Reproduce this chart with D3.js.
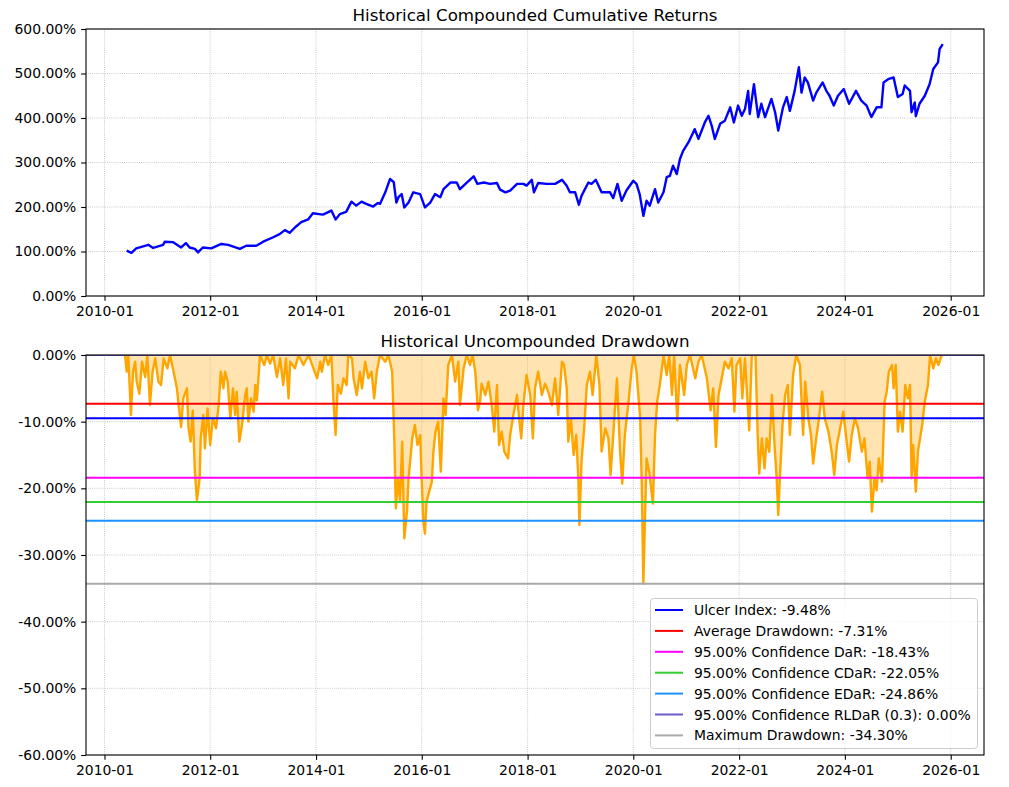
<!DOCTYPE html>
<html>
<head>
<meta charset="utf-8">
<script src="https://cdn.jsdelivr.net/npm/d3@7"></script>
<style>
body { margin: 0; background: #fff; }
svg text { font-family: "DejaVu Sans", sans-serif; fill: #000; }
</style>
</head>
<body>
<div id="chart"></div>
<script>
var svgWidth = 1009;
var svgHeight = 787;

// compounded cumulative returns (%), dates as decimal years
var cumYears = [2010.42, 2010.51, 2010.60, 2010.83, 2010.92, 2011.11, 2011.14, 2011.30, 2011.45, 2011.54,
  2011.61, 2011.71, 2011.77, 2011.86, 2012.02, 2012.21, 2012.34, 2012.56, 2012.68, 2012.87,
  2013.00, 2013.19, 2013.31, 2013.41, 2013.50, 2013.60, 2013.72, 2013.85, 2013.94, 2014.13,
  2014.29, 2014.37, 2014.45, 2014.57, 2014.67, 2014.76, 2014.86, 2014.95, 2015.08, 2015.17,
  2015.21, 2015.31, 2015.40, 2015.47, 2015.52, 2015.56, 2015.62, 2015.67, 2015.75, 2015.84,
  2015.97, 2016.06, 2016.16, 2016.25, 2016.35, 2016.41, 2016.54, 2016.66, 2016.72, 2016.85,
  2016.98, 2017.05, 2017.17, 2017.29, 2017.42, 2017.48, 2017.58, 2017.67, 2017.80, 2017.92,
  2017.98, 2018.08, 2018.12, 2018.20, 2018.36, 2018.52, 2018.65, 2018.74, 2018.80, 2018.90,
  2018.97, 2019.02, 2019.15, 2019.21, 2019.29, 2019.40, 2019.56, 2019.62, 2019.70, 2019.78,
  2019.87, 2020.00, 2020.06, 2020.12, 2020.19, 2020.25, 2020.31, 2020.41, 2020.47, 2020.57,
  2020.63, 2020.69, 2020.75, 2020.82, 2020.88, 2020.94, 2021.04, 2021.16, 2021.23, 2021.35,
  2021.42, 2021.48, 2021.54, 2021.64, 2021.73, 2021.83, 2021.90, 2021.98, 2022.05, 2022.11,
  2022.17, 2022.20, 2022.28, 2022.36, 2022.42, 2022.49, 2022.61, 2022.68, 2022.74, 2022.83,
  2022.90, 2022.96, 2023.05, 2023.13, 2023.18, 2023.24, 2023.30, 2023.40, 2023.46, 2023.58,
  2023.65, 2023.71, 2023.79, 2023.87, 2023.98, 2024.08, 2024.21, 2024.31, 2024.41, 2024.50,
  2024.60, 2024.69, 2024.73, 2024.83, 2024.92, 2025.00, 2025.09, 2025.13, 2025.23, 2025.26,
  2025.32, 2025.34, 2025.41, 2025.51, 2025.60, 2025.67, 2025.76, 2025.79, 2025.85];
var cumValues = [102, 97, 107, 115, 108, 115, 122, 121, 109, 119,
  109, 106, 98, 109, 107, 117, 115, 106, 113, 113,
  122, 132, 139, 148, 142, 154, 166, 172, 186, 183,
  192, 172, 184, 189, 212, 203, 212, 207, 201, 209,
  207, 233, 263, 256, 210, 222, 229, 199, 210, 233,
  229, 199, 210, 229, 222, 240, 255, 255, 240, 255,
  269, 252, 255, 252, 254, 239, 233, 237, 252, 252,
  248, 261, 233, 254, 252, 252, 261, 248, 233, 233,
  205, 225, 255, 252, 261, 233, 233, 220, 252, 214,
  237, 259, 252, 229, 180, 214, 203, 240, 210, 233,
  267, 270, 293, 274, 308, 326, 345, 375, 353, 390,
  405, 383, 353, 387, 394, 424, 390, 428, 405, 420,
  461, 409, 476, 402, 432, 402, 443, 413, 372, 424,
  447, 416, 461, 514, 457, 491, 480, 439, 457, 480,
  461, 450, 428, 450, 465, 432, 461, 439, 428, 402,
  424, 424, 480, 488, 491, 447, 454, 473, 461, 413,
  435, 404, 432, 450, 476, 510, 525, 555, 566];

// uncompounded drawdown (%), dates as decimal years
var ddYears = [2010.39, 2010.42, 2010.45, 2010.50, 2010.54, 2010.58, 2010.61, 2010.66, 2010.71, 2010.77,
  2010.81, 2010.86, 2010.91, 2010.96, 2011.02, 2011.07, 2011.12, 2011.19, 2011.24, 2011.32,
  2011.37, 2011.41, 2011.45, 2011.49, 2011.56, 2011.59, 2011.63, 2011.67, 2011.71, 2011.75,
  2011.80, 2011.82, 2011.87, 2011.90, 2011.95, 2012.00, 2012.05, 2012.11, 2012.16, 2012.20,
  2012.25, 2012.28, 2012.33, 2012.38, 2012.43, 2012.47, 2012.50, 2012.55, 2012.60, 2012.66,
  2012.69, 2012.72, 2012.77, 2012.82, 2012.85, 2012.88, 2012.91, 2012.94, 2013.02, 2013.07,
  2013.13, 2013.19, 2013.26, 2013.32, 2013.38, 2013.43, 2013.48, 2013.51, 2013.60, 2013.67,
  2013.76, 2013.86, 2013.95, 2014.02, 2014.08, 2014.11, 2014.17, 2014.23, 2014.29, 2014.33,
  2014.37, 2014.41, 2014.47, 2014.52, 2014.58, 2014.61, 2014.68, 2014.71, 2014.77, 2014.83,
  2014.87, 2014.93, 2014.99, 2015.05, 2015.10, 2015.15, 2015.21, 2015.31, 2015.37, 2015.44,
  2015.48, 2015.51, 2015.55, 2015.59, 2015.63, 2015.67, 2015.72, 2015.75, 2015.78, 2015.82,
  2015.87, 2015.92, 2015.97, 2016.00, 2016.03, 2016.06, 2016.09, 2016.14, 2016.19, 2016.22,
  2016.26, 2016.31, 2016.36, 2016.41, 2016.45, 2016.50, 2016.57, 2016.63, 2016.69, 2016.72,
  2016.79, 2016.85, 2016.91, 2016.96, 2017.01, 2017.06, 2017.10, 2017.13, 2017.20, 2017.26,
  2017.32, 2017.37, 2017.42, 2017.46, 2017.51, 2017.56, 2017.63, 2017.67, 2017.73, 2017.80,
  2017.84, 2017.88, 2017.92, 2017.98, 2018.05, 2018.10, 2018.14, 2018.20, 2018.27, 2018.33,
  2018.39, 2018.46, 2018.52, 2018.58, 2018.65, 2018.69, 2018.74, 2018.77, 2018.82, 2018.87,
  2018.92, 2018.96, 2018.98, 2019.02, 2019.07, 2019.12, 2019.18, 2019.23, 2019.30, 2019.36,
  2019.40, 2019.47, 2019.53, 2019.57, 2019.62, 2019.69, 2019.75, 2019.79, 2019.84, 2019.91,
  2019.97, 2020.01, 2020.06, 2020.13, 2020.16, 2020.19, 2020.22, 2020.25, 2020.30, 2020.37,
  2020.41, 2020.45, 2020.50, 2020.57, 2020.63, 2020.68, 2020.73, 2020.77, 2020.83, 2020.88,
  2020.96, 2021.01, 2021.07, 2021.17, 2021.23, 2021.29, 2021.39, 2021.46, 2021.51, 2021.56,
  2021.61, 2021.67, 2021.73, 2021.80, 2021.86, 2021.91, 2021.95, 2022.02, 2022.06, 2022.11,
  2022.19, 2022.24, 2022.31, 2022.35, 2022.38, 2022.43, 2022.48, 2022.52, 2022.57, 2022.62,
  2022.67, 2022.71, 2022.74, 2022.77, 2022.82, 2022.87, 2022.92, 2022.96, 2023.02, 2023.08,
  2023.15, 2023.21, 2023.25, 2023.31, 2023.36, 2023.40, 2023.45, 2023.51, 2023.57, 2023.62,
  2023.69, 2023.75, 2023.80, 2023.85, 2023.91, 2023.97, 2024.02, 2024.08, 2024.13, 2024.19,
  2024.25, 2024.32, 2024.37, 2024.43, 2024.47, 2024.51, 2024.56, 2024.60, 2024.64, 2024.70,
  2024.75, 2024.79, 2024.83, 2024.89, 2024.92, 2024.96, 2025.00, 2025.04, 2025.09, 2025.14,
  2025.19, 2025.23, 2025.26, 2025.29, 2025.34, 2025.38, 2025.42, 2025.46, 2025.51, 2025.57,
  2025.61, 2025.67, 2025.72, 2025.77, 2025.83, 2025.86];
var ddValues = [0, -2.5, 0, -9.0, -2.5, -1, -4, -5.8, -1, -3.3,
  0, -7.5, -2.5, -0.5, -4, -4.5, -0.5, -2, 0, -3,
  -5, -8, -10.8, -6.5, -5, -11, -13, -8.3, -17.5, -21.8,
  -18.5, -12.5, -9, -14, -8, -13.5, -9.5, -11, -7.5, -2.5,
  -5, -2.5, -4, -9.5, -5, -9, -5.5, -13, -10.5, -6,
  -5, -10, -6.5, -8.5, -4.5, -6.8, -3.5, 0, -1.5, 0,
  -1.3, 0, -3.3, -0.5, -4.5, -0.5, -6.5, -1, -2, 0,
  -1.5, 0, -2, -3.5, -1, -2.5, 0, -1.5, 0, -7,
  -12, -4.5, -5.8, -3.5, -4.5, 0, -0.5, -3.5, -6, -2.5,
  -5, -1, -3.5, -2.5, -6.5, -2.5, 0, -1, 0, -2.5,
  -12.5, -23, -18.5, -22, -13, -27.5, -23.5, -18.5, -16, -12.5,
  -10.5, -13.5, -12, -19, -25, -26.8, -22, -20.5, -19, -14.5,
  -11.5, -10, -17.5, -6.5, -9, -1.5, 0, -4, -1, -7.5,
  -2, 0, -1.5, 0, -2.5, -8.3, -7, -4.3, -6, -4,
  -7.5, -11.5, -4.5, -13.5, -11.5, -14.5, -15.5, -12, -9, -6,
  -9.5, -12.5, -7.5, -3, -6, -12.5, -5, -2.5, -6, -4.3,
  -5.5, -7.5, -3.5, -9, -1, -1.5, -5, -13, -9.5, -15,
  -12, -18.5, -25.5, -16, -11, -4.5, -2.5, -6, 0, -4.5,
  -14.5, -11, -12.5, -18, -12, -3.5, -14.5, -19.3, -12, -7,
  -2, 0, -2.5, -9.5, -19.5, -34.3, -24.5, -15.5, -17.5, -22.3,
  -12, -7, -4.5, 0, -3, 0, -6, 0, -9.8, -1.5,
  -6, -1.5, 0, -3.5, -1, 0, -3.5, -8.3, -5, -13.8,
  -6, -3.5, -1, -2, -0.5, -8.5, -1.5, -0.5, -6.5, -0.5,
  -11.3, 0, 0, -12, -17.8, -12.5, -17, -12.5, -14.5, -6,
  -13.5, -18.5, -24, -18.5, -10.5, -6, -4.5, -12, -3, 0,
  -1.5, -12, -4, -9.5, -12, -16.3, -13, -9.5, -5.5, -9.5,
  -11.5, -14.5, -18, -13.5, -11, -8.5, -12, -16, -12, -9.5,
  -11, -14.5, -12.5, -18.5, -16, -23.5, -18.5, -20.3, -15.5, -19,
  -7, -5.5, -2.5, -1.5, -5, -1.5, -11.5, -8.5, -11.5, -4.5,
  -6.5, -4.5, -18.5, -13.5, -20.5, -14.5, -12.5, -10.5, -7, -4.5,
  0, -2, -0.5, -1.5, 0, 0];

// risk measures (%) shown as horizontal lines
var riskLabels = ["Ulcer Index: -9.48%", "Average Drawdown: -7.31%", "95.00% Confidence DaR: -18.43%",
  "95.00% Confidence CDaR: -22.05%", "95.00% Confidence EDaR: -24.86%",
  "95.00% Confidence RLDaR (0.3): 0.00%", "Maximum Drawdown: -34.30%"];
var riskValues = [-9.48, -7.31, -18.43, -22.05, -24.86, 0.0, -34.30];

var xTickLabels = ["2010-01", "2012-01", "2014-01", "2016-01", "2018-01", "2020-01", "2022-01", "2024-01", "2026-01"];
var cumTicks = [0, 100, 200, 300, 400, 500, 600];
var ddTicks = [0, -10, -20, -30, -40, -50, -60];

var riskColors = ["#0000ff", "#ff0000", "#ff00ff", "#32cd32", "#1e90ff", "#6a5acd", "#a9a9a9"];

function yearToDate(y) {
  var yr = Math.floor(y);
  var start = new Date(yr, 0, 1), end = new Date(yr + 1, 0, 1);
  return new Date(+start + (y - yr) * (end - start));
}

var parseMonth = d3.timeParse("%Y-%m");
var cumData = cumYears.map((y, i) => ({ date: yearToDate(y), value: cumValues[i] }));
var ddData = ddYears.map((y, i) => ({ date: yearToDate(y), value: ddValues[i] }));

var left = 86, right = 984;
var top1 = 29, bottom1 = 296;
var top2 = 355, bottom2 = 755;
var tickLen = 4.86, fontPx = "13.9px";

var svg = d3.select("#chart").append("svg")
  .attr("width", svgWidth)
  .attr("height", svgHeight);

var x = d3.scaleTime()
  .domain([yearToDate(2009.65), yearToDate(2026.63)])
  .range([left, right]);

var y1 = d3.scaleLinear().domain([0, 600]).range([bottom1, top1]);
var y2 = d3.scaleLinear().domain([-60, 0]).range([bottom2, top2]);

var xTicks = xTickLabels.map(parseMonth);

// grid + title for one panel
function drawPanel(yScale, yTicks, top, bottom, title) {
  var g = svg.append("g");

  g.selectAll(".vgrid").data(xTicks).enter().append("line")
    .attr("x1", d => x(d)).attr("x2", d => x(d))
    .attr("y1", top).attr("y2", bottom)
    .attr("stroke", "#b0b0b0").attr("stroke-width", 0.8)
    .attr("stroke-dasharray", "0.8,1.32");

  g.selectAll(".hgrid").data(yTicks).enter().append("line")
    .attr("x1", left).attr("x2", right)
    .attr("y1", d => yScale(d)).attr("y2", d => yScale(d))
    .attr("stroke", "#b0b0b0").attr("stroke-width", 0.8)
    .attr("stroke-dasharray", "0.8,1.32");

  svg.append("text")
    .attr("x", (left + right) / 2)
    .attr("y", top - 8.3)
    .attr("text-anchor", "middle")
    .attr("font-size", "16.7px")
    .text(title);

  return g;
}

function drawAxes(yScale, yTicks, top, bottom) {
  var bottomAxis = d3.axisBottom(x)
    .tickValues(xTicks)
    .tickFormat(d3.timeFormat("%Y-%m"))
    .tickSizeInner(tickLen).tickSizeOuter(0).tickPadding(4.86);
  var leftAxis = d3.axisLeft(yScale)
    .tickValues(yTicks)
    .tickSizeInner(tickLen).tickSizeOuter(0).tickPadding(4.86);

  var xa = svg.append("g")
    .attr("transform", `translate(0, ${bottom})`)
    .call(bottomAxis);
  var ya = svg.append("g")
    .attr("transform", `translate(${left}, 0)`)
    .call(leftAxis);

  [xa, ya].forEach(a => {
    a.select(".domain").remove();
    a.selectAll("line").attr("stroke", "#000").attr("stroke-width", 1.1);
    a.selectAll("text").attr("font-size", fontPx).attr("font-family", "DejaVu Sans").attr("fill", "#000");
  });
  ya.selectAll("text").text(d => d3.format(".2f")(d).replace("\u2212", "-") + "%");

  svg.append("rect")
    .attr("x", left).attr("y", top)
    .attr("width", right - left).attr("height", bottom - top)
    .attr("fill", "none").attr("stroke", "#000").attr("stroke-width", 1.1);
}

// top panel: cumulative returns
drawPanel(y1, cumTicks, top1, bottom1, "Historical Compounded Cumulative Returns");

svg.append("path")
  .datum(cumData)
  .attr("fill", "none")
  .attr("stroke", "#0000ff")
  .attr("stroke-width", 2.4)
  .attr("stroke-linejoin", "round")
  .attr("d", d3.line().x(d => x(d.date)).y(d => y1(d.value)));

drawAxes(y1, cumTicks, top1, bottom1);

// bottom panel: drawdown
drawPanel(y2, ddTicks, top2, bottom2, "Historical Uncompounded Drawdown");

svg.append("clipPath").attr("id", "clip2")
  .append("rect")
  .attr("x", left).attr("y", top2)
  .attr("width", right - left).attr("height", bottom2 - top2);

var ddGroup = svg.append("g").attr("clip-path", "url(#clip2)");

ddGroup.append("path")
  .datum(ddData)
  .attr("fill", "orange")
  .attr("fill-opacity", 0.3)
  .attr("d", d3.area().x(d => x(d.date)).y0(y2(0)).y1(d => y2(d.value)));

ddGroup.append("path")
  .datum(ddData)
  .attr("fill", "none")
  .attr("stroke", "orange")
  .attr("stroke-width", 2.4)
  .attr("stroke-linejoin", "round")
  .attr("d", d3.line().x(d => x(d.date)).y(d => y2(d.value)));

ddGroup.selectAll(".risk").data(riskValues).enter().append("line")
  .attr("x1", left).attr("x2", right)
  .attr("y1", d => y2(d)).attr("y2", d => y2(d))
  .attr("stroke", (d, i) => riskColors[i])
  .attr("stroke-width", 2);

drawAxes(y2, ddTicks, top2, bottom2);

// legend
var legend = svg.append("g");
legend.append("rect")
  .attr("x", 650.5).attr("y", 598.5)
  .attr("width", 327).attr("height", 150)
  .attr("rx", 3)
  .attr("fill", "#fff").attr("fill-opacity", 0.8)
  .attr("stroke", "#cccccc").attr("stroke-width", 1);

var rows = legend.selectAll(".row").data(riskLabels).enter().append("g")
  .attr("transform", (d, i) => `translate(0, ${610 + i * 20.9})`);
rows.append("line")
  .attr("x1", 655).attr("x2", 683)
  .attr("stroke", (d, i) => riskColors[i])
  .attr("stroke-width", 2);
rows.append("text")
  .attr("x", 694)
  .attr("dy", "0.36em")
  .attr("font-size", fontPx)
  .text(d => d);
</script>
</body>
</html>
